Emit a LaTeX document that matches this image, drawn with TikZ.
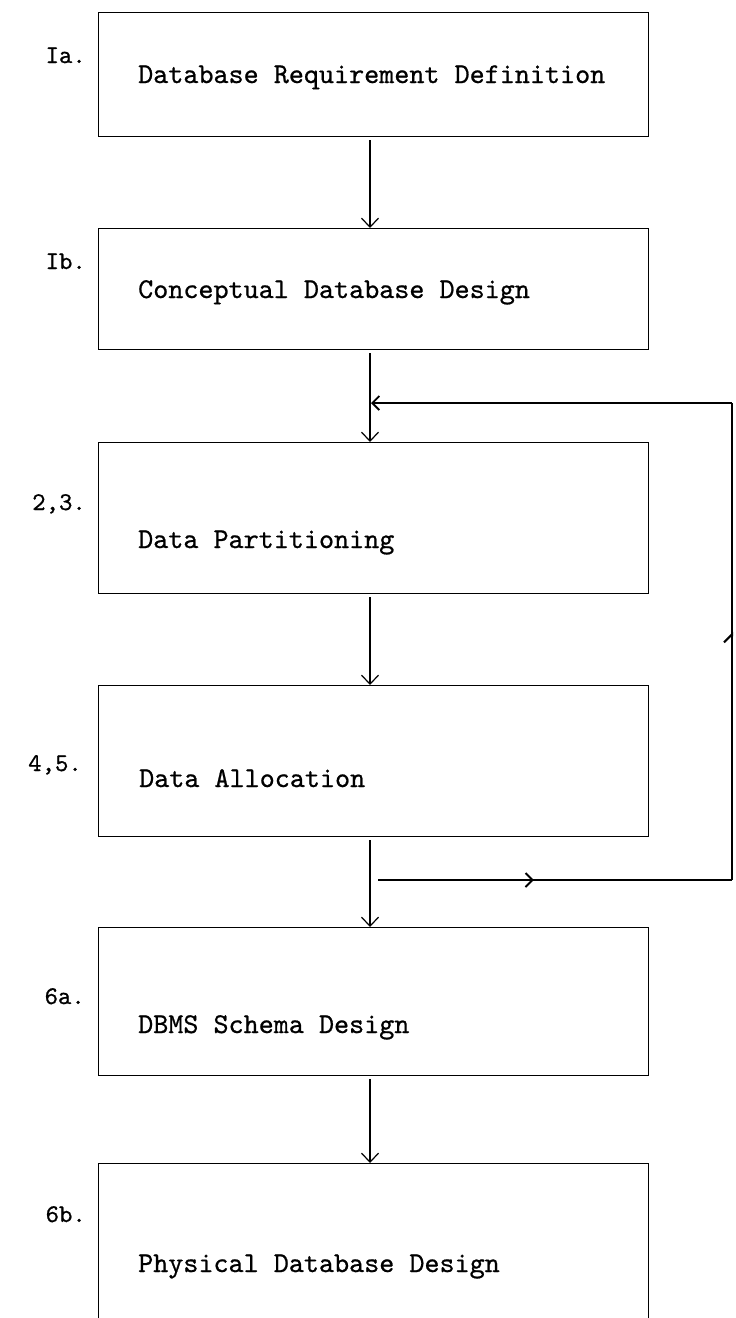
\documentclass[tikz,border=0pt]{standalone}
\usepackage{fontspec}
\usetikzlibrary{arrows.meta,decorations.markings}
\newfontfamily\typefont{lmmono10-regular.otf}[FakeBold=0.7]
\begin{document}
\begin{tikzpicture}[x=1pt,y=-1pt,
  stage/.style={draw,line width=1.4pt,minimum width=550pt,anchor=north west,inner sep=0pt},
  steptext/.style={anchor=base west,inner sep=0pt,font=\fontsize{28.7}{29}\selectfont\typefont},
  steplabel/.style={anchor=base east,inner sep=0pt,font=\fontsize{25.5}{26}\selectfont\typefont},
  flow/.style={line width=1.2pt,-{Straight Barb[length=9pt,width=17pt,line width=1.2pt]}},
  loopline/.style={line width=1.5pt},
  midtip/.style={postaction={decorate},decoration={markings,
     mark=at position #1 with {\arrow{Straight Barb[length=7pt,width=14pt,line width=1.8pt]}}}},
  midhook/.style={postaction={decorate},decoration={markings,
     mark=at position #1 with {\arrow{Straight Barb[harpoon,length=8pt,width=16pt,line width=2pt]}}}}]
\useasboundingbox (0,0) rectangle (736,1318);
\clip (0,0) rectangle (736,1318);

% the six design stages
\node[stage,minimum height=124pt] (req)   at (98,12)   {};
\node[stage,minimum height=121pt] (conc)  at (98,228)  {};
\node[stage,minimum height=151pt] (part)  at (98,442)  {};
\node[stage,minimum height=151pt] (alloc) at (98,685)  {};
\node[stage,minimum height=148pt] (dbms)  at (98,927)  {};
\node[stage,minimum height=200pt] (phys)  at (98,1163) {};

% stage titles
\node[steptext] (treq)   at (138,83)   {Database Requirement Definition};
\node[steptext] (tconc)  at (138,298)  {Conceptual Database Design};
\node[steptext] (tpart)  at (138,548)  {Data Partitioning};
\node[steptext] (talloc) at (139,787)  {Data Allocation};
\node[steptext] (tdbms)  at (138,1033) {DBMS Schema Design};
\node[steptext] (tphys)  at (138,1272) {Physical Database Design};

% step numbers
\node[steplabel] (lreq)   at (86,63)   {Ia.};
\node[steplabel] (lconc)  at (86,269)  {Ib.};
\node[steplabel] (lpart)  at (86,510)  {2,3.};
\node[steplabel] (lalloc) at (82,771)  {4,5.};
\node[steplabel] (ldbms)  at (85,1004) {6a.};
\node[steplabel] (lphys)  at (86,1222) {6b.};

% main flow
\coordinate (s1) at (370,140);  \coordinate (e1) at (370,228);
\coordinate (s2) at (370,353);  \coordinate (e2) at (370,442);
\coordinate (s3) at (370,597);  \coordinate (e3) at (370,685);
\coordinate (s4) at (370,840);  \coordinate (e4) at (370,927);
\coordinate (s5) at (370,1079); \coordinate (e5) at (370,1163);
\draw[flow] (s1) -- (e1);
\draw[flow] (s2) -- (e2);
\draw[flow] (s3) -- (e3);
\draw[flow] (s4) -- (e4);
\draw[flow] (s5) -- (e5);

% feedback loop from allocation back to partitioning
\coordinate (jout) at (378,880);
\coordinate (rbot) at (732,880);
\coordinate (rtop) at (732,403);
\coordinate (jin)  at (371,403);
\draw[loopline,midtip=0.44] (jout) -- (rbot);
\draw[loopline,midhook=0.52] (rbot) -- (rtop);
\draw[loopline,-{Straight Barb[length=7pt,width=14pt,line width=1.8pt]}] (rtop) -- (jin);
\end{tikzpicture}
\end{document}
